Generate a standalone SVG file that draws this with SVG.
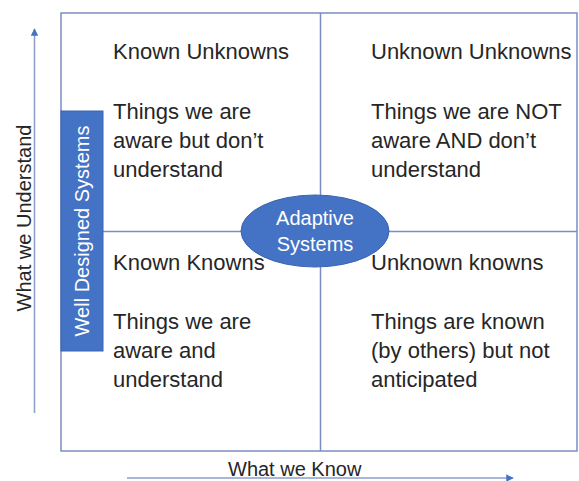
<svg xmlns="http://www.w3.org/2000/svg" width="579" height="481" viewBox="0 0 579 481">
  <style>
    .grid { fill: none; stroke: #7A8CC4; stroke-width: 1.5; }
    .axis { stroke: #8C9DCC; stroke-width: 1.5; fill: none; }
    .t { font-family: "Liberation Sans", Arial, sans-serif; fill: #262626; }
    .h { font-size: 22px; }
    .b { font-size: 22px; }
    .ax { font-size: 20px; }
    .w { font-family: "Liberation Sans", Arial, sans-serif; fill: #FFFFFF; font-size: 20px; }
  </style>
  <defs>
    <marker id="arr" viewBox="0 0 10 10" refX="9" refY="5" markerWidth="5" markerHeight="5" orient="auto" markerUnits="strokeWidth">
      <path d="M0,0 L10,5 L0,10 Z" fill="#4472C4"/>
    </marker>
  </defs>
  <rect width="579" height="481" fill="#FFFFFF"/>

  <g id="grid">
    <rect class="grid" x="61" y="13" width="516" height="438"/>
    <line class="grid" x1="320.5" y1="13" x2="320.5" y2="451"/>
    <line class="grid" x1="61" y1="231.5" x2="577" y2="231.5"/>
  </g>

  <g id="connectors">
    <line class="axis" x1="34.5" y1="413" x2="34.5" y2="29" marker-end="url(#arr)"/>
    <line class="axis" x1="127" y1="478" x2="513" y2="478" marker-end="url(#arr)"/>
  </g>

  <g id="axis-y-label">
    <text class="t ax" transform="translate(31,218) rotate(-90)" text-anchor="middle">What we Understand</text>
  </g>
  <g id="axis-x-label">
    <text class="t ax" x="228" y="476">What we Know</text>
  </g>

  <g id="known-unknowns">
    <text class="t h" x="113" y="59">Known Unknowns</text>
    <text class="t b" x="113" y="119">Things we are</text>
    <text class="t b" x="113" y="148">aware but don’t</text>
    <text class="t b" x="113" y="177">understand</text>
  </g>

  <g id="unknown-unknowns">
    <text class="t h" x="371" y="59">Unknown Unknowns</text>
    <text class="t b" x="371" y="119">Things we are NOT</text>
    <text class="t b" x="371" y="148">aware AND don’t</text>
    <text class="t b" x="371" y="177">understand</text>
  </g>

  <g id="known-knowns">
    <text class="t h" x="113" y="270">Known Knowns</text>
    <text class="t b" x="113" y="329">Things we are</text>
    <text class="t b" x="113" y="358">aware and</text>
    <text class="t b" x="113" y="387">understand</text>
  </g>

  <g id="unknown-knowns">
    <text class="t h" x="371" y="270">Unknown knowns</text>
    <text class="t b" x="371" y="329">Things are known</text>
    <text class="t b" x="371" y="358">(by others) but not</text>
    <text class="t b" x="371" y="387">anticipated</text>
  </g>

  <g id="well-designed-systems">
    <rect x="61" y="111" width="42" height="240" fill="#4472C4" stroke="#3A64B0" stroke-width="1"/>
    <text class="w" transform="translate(89,231) rotate(-90)" text-anchor="middle">Well Designed Systems</text>
  </g>

  <g id="adaptive-systems">
    <ellipse cx="315" cy="231" rx="74" ry="36" fill="#4472C4" stroke="#3A64B0" stroke-width="1"/>
    <text class="w" x="315" y="225" text-anchor="middle">Adaptive</text>
    <text class="w" x="315" y="251" text-anchor="middle">Systems</text>
  </g>
</svg>
